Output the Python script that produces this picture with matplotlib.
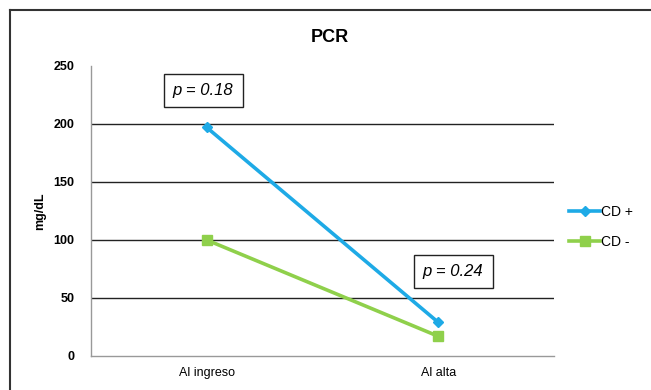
import matplotlib.pyplot as plt
from matplotlib.lines import Line2D

plt.rcParams['font.family'] = ['Liberation Sans Narrow', 'Liberation Sans', 'DejaVu Sans']

categories = ['Al ingreso', 'Al alta']
cd_pos = [197, 29]
cd_neg = [100, 17]
yticks = [0, 50, 100, 150, 200, 250]

fig = plt.figure(figsize=(6.51, 3.9), dpi=100)
ax = fig.add_axes([91 / 651, 1 - 356 / 390, 463 / 651, 290 / 390])

x = list(range(len(categories)))
ax.plot(x, cd_pos, color='#1eaae6', lw=2.6, marker='D', ms=5, label='CD +')
ax.plot(x, cd_neg, color='#8fd04b', lw=2.6, marker='s', ms=7, label='CD -')

ax.set_xlim(-0.5, 1.5)
ax.set_ylim(0, 250)
ax.set_xticks(x)
ax.set_xticklabels(categories, fontsize=9)
ax.set_yticks(yticks)
ax.tick_params(axis='y', length=0, pad=12, labelsize=9)
ax.tick_params(axis='x', length=0, pad=8)
for t in ax.get_yticklabels():
    t.set_fontweight('bold')
for v in yticks[1:-1]:
    ax.axhline(v, color='#222222', lw=1.0, zorder=0)

for s in ['top', 'right']:
    ax.spines[s].set_visible(False)
for s in ['left', 'bottom']:
    ax.spines[s].set_color('#999999')
    ax.spines[s].set_linewidth(1.0)

ax.set_ylabel('mg/dL', fontsize=9, fontweight='bold')
ax.yaxis.set_label_coords(-45 / 463, 0.5)
fig.text(330 / 651, 1 - 37 / 390, 'PCR', ha='center', va='center', fontsize=13, fontweight='bold',
         family=['Liberation Sans', 'DejaVu Sans'])

box = dict(boxstyle='square,pad=0.55', fc='white', ec='#222222', lw=1.0)
ax.text(-0.016, 229, 'p = 0.18', ha='center', va='center', fontsize=12, style='italic', bbox=box)
ax.text(1.064, 73, 'p = 0.24', ha='center', va='center', fontsize=12, style='italic', bbox=box)

ax.legend(loc='center left', bbox_to_anchor=(1.015, 0.445), frameon=False, fontsize=10,
          handlelength=2.2, handletextpad=0.1, labelspacing=1.1, borderaxespad=0.2)

# outer frame
fig.add_artist(Line2D([10 / 651, 10 / 651], [0, 1 - 10 / 390], color='#333333', lw=1.5))
fig.add_artist(Line2D([10 / 651, 1], [1 - 10 / 390, 1 - 10 / 390], color='#333333', lw=1.5))

fig.savefig('out.png', dpi=100)
